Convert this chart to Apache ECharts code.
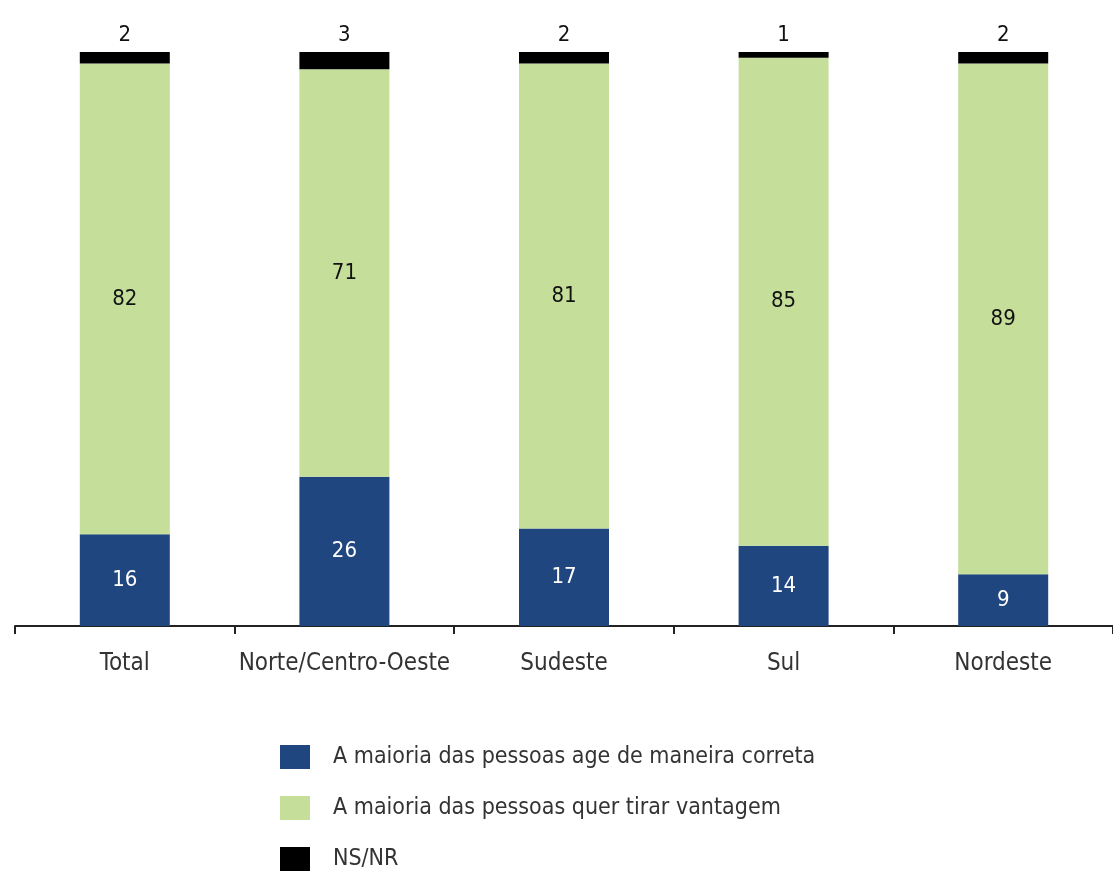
<!DOCTYPE html>
<html>
<head>
<meta charset="utf-8">
<script src="https://cdn.jsdelivr.net/npm/echarts@6/dist/echarts.min.js"></script>
<style>
  html, body { margin: 0; padding: 0; background: #fff; }
  #chart { width: 1113px; height: 879px; }
</style>
</head>
<body>
<div id="chart"></div>
<script>
// regions
const categories = ["Total", "Norte/Centro-Oeste", "Sudeste", "Sul", "Nordeste"];
// values (%)
const corretaValues = [16, 26, 17, 14, 9];
const vantagemValues = [82, 71, 81, 85, 89];
const nsnrValues = [2, 3, 2, 1, 2];
const seriesNames = [
  "A maioria das pessoas age de maneira correta",
  "A maioria das pessoas quer tirar vantagem",
  "NS/NR"
];

const fontFam = "'Liberation Sans Narrow', 'DejaVu Sans Condensed', 'Roboto', sans-serif";

let chart = echarts.init(document.getElementById("chart"));
let options = {
  animation: false,
  textStyle: { fontFamily: fontFam },
  grid: {
    left: 15,
    right: 0,
    top: 52,
    bottom: 253,
    containLabel: false
  },
  legend: {
    orient: "vertical",
    left: 275,
    top: 740,
    height: 200,
    itemWidth: 30,
    itemHeight: 24,
    itemGap: 27,
    icon: "rect",
    textStyle: { fontSize: 23, color: "#333", fontFamily: fontFam, padding: [0, 0, 0, 18] },
    data: seriesNames
  },
  xAxis: {
    type: "category",
    data: categories,
    axisLine: { lineStyle: { color: "#222", width: 2 } },
    axisTick: { show: true, interval: 0, length: 8, lineStyle: { color: "#222", width: 2 } },
    axisLabel: { interval: 0, fontSize: 24, color: "#333", margin: 26, fontFamily: fontFam }
  },
  yAxis: {
    type: "value",
    min: 0,
    max: 100,
    show: false,
    splitLine: { show: false }
  },
  series: [
    {
      name: seriesNames[0],
      type: "bar",
      stack: "total",
      barWidth: 90,
      itemStyle: { color: "#1f467f" },
      label: { show: true, position: "inside", color: "#fff", fontSize: 22, fontFamily: fontFam },
      data: corretaValues
    },
    {
      name: seriesNames[1],
      type: "bar",
      stack: "total",
      barWidth: 90,
      itemStyle: { color: "#c5df9a" },
      label: { show: true, position: "inside", color: "#111", fontSize: 22, fontFamily: fontFam },
      data: vantagemValues
    },
    {
      name: seriesNames[2],
      type: "bar",
      stack: "total",
      barWidth: 90,
      itemStyle: { color: "#000" },
      label: { show: true, position: "top", distance: 6, color: "#111", fontSize: 22, fontFamily: fontFam },
      data: nsnrValues
    }
  ]
};
chart.setOption(options);
</script>
</body>
</html>
